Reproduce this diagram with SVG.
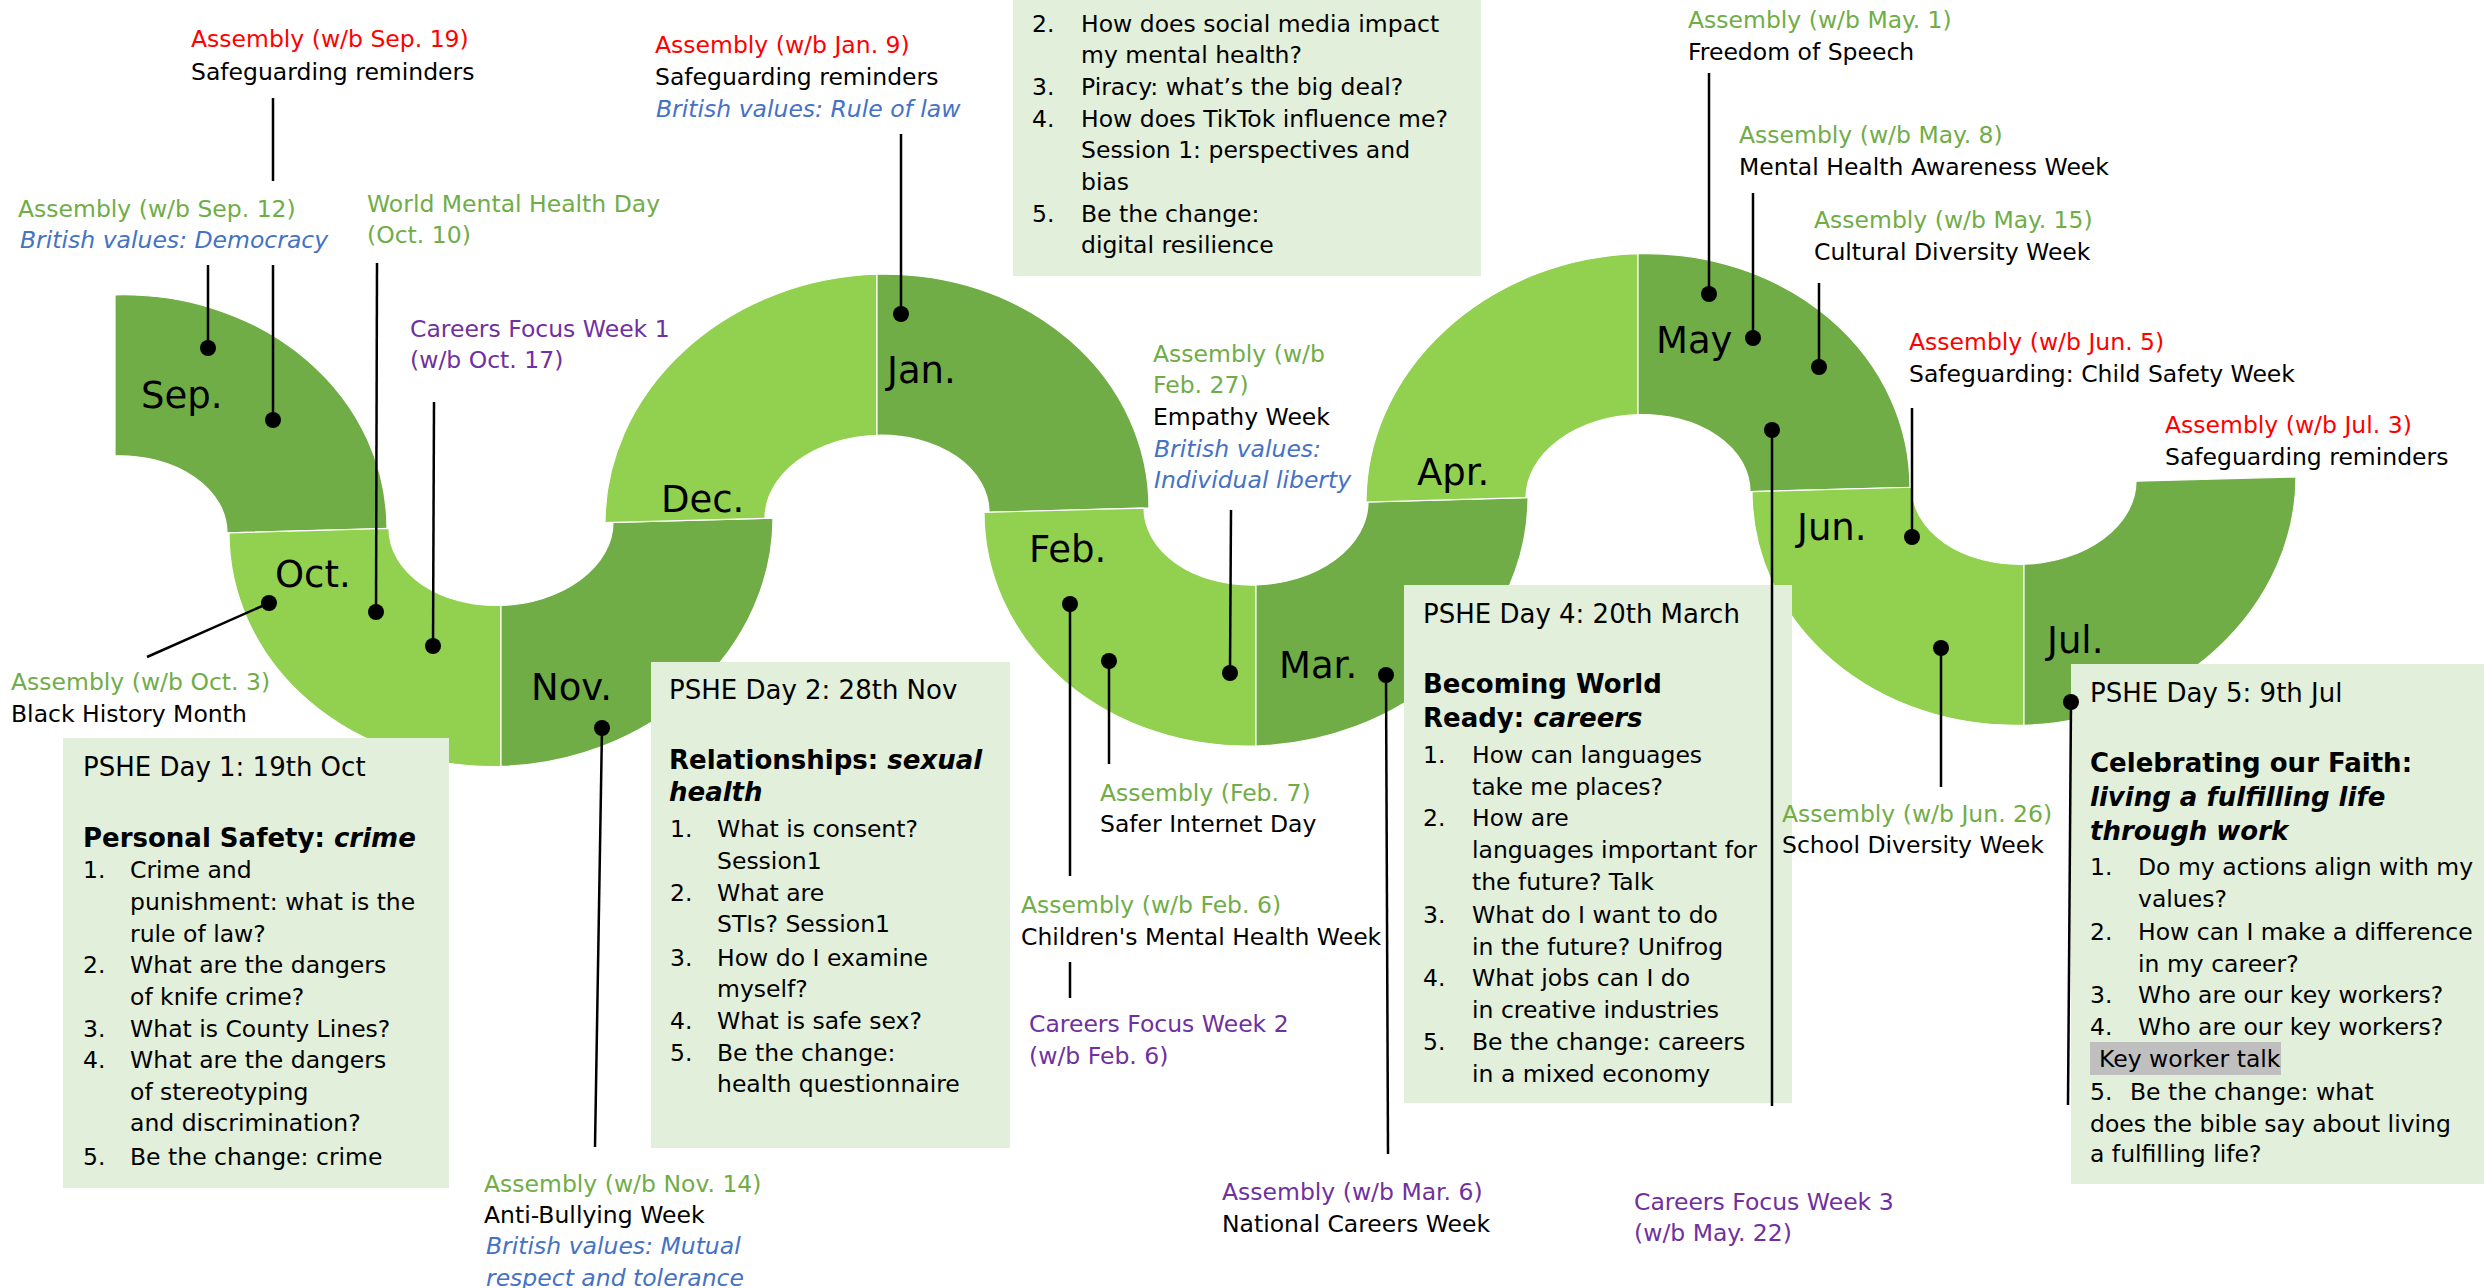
<svg xmlns="http://www.w3.org/2000/svg" width="2484" height="1288" viewBox="0 0 2484 1288">
<style>
text{font-family:"DejaVu Sans",Verdana,sans-serif;font-size:23.5px;fill:#000}
.g{fill:#70AD47}.r{fill:#FF0000}.bl{fill:#4472C4;font-style:italic}.p{fill:#7030A0}
.h{font-size:26px}.hb{font-size:26px;font-weight:bold}.i{font-style:italic}
.m{font-size:37px}
.box{fill:#E2EFDA}
.dk{fill:#70AD47;stroke:#fff;stroke-width:1.2}.lt{fill:#92D050;stroke:#fff;stroke-width:1.2}
.ln{stroke:#000;stroke-width:2.5;fill:none}
.dot{fill:#000}
</style>
<rect width="2484" height="1288" fill="#fff"/>
<g id="snake" transform="skewY(-1.55)">
<path id="seg-sep" class="dk" d="M115,298 A272,241 0 0 1 387,539 L227,539 A112,80 0 0 0 115,459 Z"/>
<path id="seg-oct" class="lt" d="M229,539 A272,241 0 0 0 501,780 L501,619 A112,80 0 0 1 389,539 Z"/>
<path id="seg-nov" class="dk" d="M501,780 A272,241 0 0 0 773,539 L613,539 A112,80 0 0 1 501,619 Z"/>
<path id="seg-dec" class="lt" d="M605,539 A272,241 0 0 1 877,298 L877,459 A112,80 0 0 0 765,539 Z"/>
<path id="seg-jan" class="dk" d="M877,298 A272,241 0 0 1 1149,539 L989,539 A112,80 0 0 0 877,459 Z"/>
<path id="seg-feb" class="lt" d="M984,539 A272,241 0 0 0 1256,780 L1256,619 A112,80 0 0 1 1144,539 Z"/>
<path id="seg-mar" class="dk" d="M1256,780 A272,241 0 0 0 1528,539 L1368,539 A112,80 0 0 1 1256,619 Z"/>
<path id="seg-apr" class="lt" d="M1366,539 A272,241 0 0 1 1638,298 L1638,459 A112,80 0 0 0 1526,539 Z"/>
<path id="seg-may" class="dk" d="M1638,298 A272,241 0 0 1 1910,539 L1750,539 A112,80 0 0 0 1638,459 Z"/>
<path id="seg-jun" class="lt" d="M1752,539 A272,241 0 0 0 2024,780 L2024,619 A112,80 0 0 1 1912,539 Z"/>
<path id="seg-jul" class="dk" d="M2024,780 A272,241 0 0 0 2296,539 L2136,539 A112,80 0 0 1 2024,619 Z"/>
</g>
<g id="months">
<text class="m" x="141" y="408">Sep.</text>
<text class="m" x="275" y="587">Oct.</text>
<text class="m" x="531" y="700">Nov.</text>
<text class="m" x="661" y="512">Dec.</text>
<text class="m" x="887" y="383">Jan.</text>
<text class="m" x="1029" y="562">Feb.</text>
<text class="m" x="1279" y="678">Mar.</text>
<text class="m" x="1417" y="485">Apr.</text>
<text class="m" x="1656" y="353">May</text>
<text class="m" x="1797" y="540">Jun.</text>
<text class="m" x="2047" y="653">Jul.</text>
</g>
<g id="pshe1">
<rect class="box" x="63" y="738" width="386" height="450"/>
<text class="h" x="83" y="776">PSHE Day 1: 19th Oct</text>
<text class="hb" x="83" y="847">Personal Safety: <tspan class="i">crime</tspan></text>
<text x="83" y="878">1.</text><text x="130" y="878">Crime and</text>
<text x="130" y="910">punishment: what is the</text>
<text x="130" y="942">rule of law?</text>
<text x="83" y="973">2.</text><text x="130" y="973">What are the dangers</text>
<text x="130" y="1005">of knife crime?</text>
<text x="83" y="1037">3.</text><text x="130" y="1037">What is County Lines?</text>
<text x="83" y="1068">4.</text><text x="130" y="1068">What are the dangers</text>
<text x="130" y="1100">of stereotyping</text>
<text x="130" y="1131">and discrimination?</text>
<text x="83" y="1165">5.</text><text x="130" y="1165">Be the change: crime</text>
</g>
<g id="pshe2">
<rect class="box" x="651" y="662" width="359" height="486"/>
<text class="h" x="669" y="699">PSHE Day 2: 28th Nov</text>
<text class="hb" x="669" y="769">Relationships: <tspan class="i">sexual</tspan></text>
<text class="hb i" x="669" y="801">health</text>
<text x="670" y="837">1.</text><text x="717" y="837">What is consent?</text>
<text x="717" y="869">Session1</text>
<text x="670" y="901">2.</text><text x="717" y="901">What are</text>
<text x="717" y="932">STIs? Session1</text>
<text x="670" y="966">3.</text><text x="717" y="966">How do I examine</text>
<text x="717" y="997">myself?</text>
<text x="670" y="1029">4.</text><text x="717" y="1029">What is safe sex?</text>
<text x="670" y="1061">5.</text><text x="717" y="1061">Be the change:</text>
<text x="717" y="1092">health questionnaire</text>
</g>
<g id="pshe3">
<rect class="box" x="1013" y="-10" width="468" height="286"/>
<text x="1032" y="32">2.</text><text x="1081" y="32">How does social media impact</text>
<text x="1081" y="63">my mental health?</text>
<text x="1032" y="95">3.</text><text x="1081" y="95">Piracy: what’s the big deal?</text>
<text x="1032" y="127">4.</text><text x="1081" y="127">How does TikTok influence me?</text>
<text x="1081" y="158">Session 1: perspectives and</text>
<text x="1081" y="190">bias</text>
<text x="1032" y="222">5.</text><text x="1081" y="222">Be the change:</text>
<text x="1081" y="253">digital resilience</text>
</g>
<g id="pshe4">
<rect class="box" x="1404" y="585" width="388" height="518"/>
<text class="h" x="1423" y="623">PSHE Day 4: 20th March</text>
<text class="hb" x="1423" y="693">Becoming World</text>
<text class="hb" x="1423" y="727">Ready: <tspan class="i">careers</tspan></text>
<text x="1423" y="763">1.</text><text x="1472" y="763">How can languages</text>
<text x="1472" y="795">take me places?</text>
<text x="1423" y="826">2.</text><text x="1472" y="826">How are</text>
<text x="1472" y="858">languages important for</text>
<text x="1472" y="890">the future? Talk</text>
<text x="1423" y="923">3.</text><text x="1472" y="923">What do I want to do</text>
<text x="1472" y="955">in the future? Unifrog</text>
<text x="1423" y="986">4.</text><text x="1472" y="986">What jobs can I do</text>
<text x="1472" y="1018">in creative industries</text>
<text x="1423" y="1050">5.</text><text x="1472" y="1050">Be the change: careers</text>
<text x="1472" y="1082">in a mixed economy</text>
</g>
<g id="pshe5">
<rect class="box" x="2071" y="664" width="413" height="520"/>
<text class="h" x="2090" y="702">PSHE Day 5: 9th Jul</text>
<text class="hb" x="2090" y="772">Celebrating our Faith:</text>
<text class="hb i" x="2090" y="806">living a fulfilling life</text>
<text class="hb i" x="2090" y="840">through work</text>
<text x="2090" y="875">1.</text><text x="2138" y="875">Do my actions align with my</text>
<text x="2138" y="907">values?</text>
<text x="2090" y="940">2.</text><text x="2138" y="940">How can I make a difference</text>
<text x="2138" y="972">in my career?</text>
<text x="2090" y="1003">3.</text><text x="2138" y="1003">Who are our key workers?</text>
<text x="2090" y="1035">4.</text><text x="2138" y="1035">Who are our key workers?</text>
<rect x="2090" y="1042" width="191" height="33" fill="#BFBFBF"/>
<text x="2099" y="1067">Key worker talk</text>
<text x="2090" y="1100">5.</text><text x="2130" y="1100">Be the change: what</text>
<text x="2090" y="1132">does the bible say about living</text>
<text x="2090" y="1162">a fulfilling life?</text>
</g>
<g id="lbl-sep19"><text class="r" x="191" y="47">Assembly (w/b Sep. 19)</text><text x="191" y="80">Safeguarding reminders</text></g>
<g id="lbl-sep12"><text class="g" x="18" y="217">Assembly (w/b Sep. 12)</text><text class="bl" x="20" y="248">British values: Democracy</text></g>
<g id="lbl-wmhd"><text class="g" x="367" y="212">World Mental Health Day</text><text class="g" x="367" y="243">(Oct. 10)</text></g>
<g id="lbl-cfw1"><text class="p" x="410" y="337">Careers Focus Week 1</text><text class="p" x="410" y="368">(w/b Oct. 17)</text></g>
<g id="lbl-oct3"><text class="g" x="11" y="690">Assembly (w/b Oct. 3)</text><text x="11" y="722">Black History Month</text></g>
<g id="lbl-nov14"><text class="g" x="484" y="1192">Assembly (w/b Nov. 14)</text><text x="484" y="1223">Anti-Bullying Week</text><text class="bl" x="486" y="1254">British values: Mutual</text><text class="bl" x="486" y="1286">respect and tolerance</text></g>
<g id="lbl-jan9"><text class="r" x="655" y="53">Assembly (w/b Jan. 9)</text><text x="655" y="85">Safeguarding reminders</text><text class="bl" x="656" y="117">British values: Rule of law</text></g>
<g id="lbl-feb27"><text class="g" x="1153" y="362">Assembly (w/b</text><text class="g" x="1153" y="393">Feb. 27)</text><text x="1153" y="425">Empathy Week</text><text class="bl" x="1154" y="457">British values:</text><text class="bl" x="1154" y="488">Individual liberty</text></g>
<g id="lbl-feb7"><text class="g" x="1100" y="801">Assembly (Feb. 7)</text><text x="1100" y="832">Safer Internet Day</text></g>
<g id="lbl-feb6"><text class="g" x="1021" y="913">Assembly (w/b Feb. 6)</text><text x="1021" y="945">Children's Mental Health Week</text></g>
<g id="lbl-cfw2"><text class="p" x="1029" y="1032">Careers Focus Week 2</text><text class="p" x="1029" y="1064">(w/b Feb. 6)</text></g>
<g id="lbl-mar6"><text class="p" x="1222" y="1200">Assembly (w/b Mar. 6)</text><text x="1222" y="1232">National Careers Week</text></g>
<g id="lbl-cfw3"><text class="p" x="1634" y="1210">Careers Focus Week 3</text><text class="p" x="1634" y="1241">(w/b May. 22)</text></g>
<g id="lbl-may1"><text class="g" x="1688" y="28">Assembly (w/b May. 1)</text><text x="1688" y="60">Freedom of Speech</text></g>
<g id="lbl-may8"><text class="g" x="1739" y="143">Assembly (w/b May. 8)</text><text x="1739" y="175">Mental Health Awareness Week</text></g>
<g id="lbl-may15"><text class="g" x="1814" y="228">Assembly (w/b May. 15)</text><text x="1814" y="260">Cultural Diversity Week</text></g>
<g id="lbl-jun5"><text class="r" x="1909" y="350">Assembly (w/b Jun. 5)</text><text x="1909" y="382">Safeguarding: Child Safety Week</text></g>
<g id="lbl-jul3"><text class="r" x="2165" y="433">Assembly (w/b Jul. 3)</text><text x="2165" y="465">Safeguarding reminders</text></g>
<g id="lbl-jun26"><text class="g" x="1782" y="822">Assembly (w/b Jun. 26)</text><text x="1782" y="853">School Diversity Week</text></g>
<g id="connectors">
<path class="ln" d="M273,98V181M273,265V420"/><circle class="dot" cx="273" cy="420" r="8"/>
<path class="ln" d="M208,265V348"/><circle class="dot" cx="208" cy="348" r="8"/>
<path class="ln" d="M377,263L376,612"/><circle class="dot" cx="376" cy="612" r="8"/>
<path class="ln" d="M434,402L433,646"/><circle class="dot" cx="433" cy="646" r="8"/>
<path class="ln" d="M147,657L269,603"/><circle class="dot" cx="269" cy="603" r="8"/>
<path class="ln" d="M602,728L595,1147"/><circle class="dot" cx="602" cy="728" r="8"/>
<path class="ln" d="M901,134V314"/><circle class="dot" cx="901" cy="314" r="8"/>
<path class="ln" d="M1231,510L1230,673"/><circle class="dot" cx="1230" cy="673" r="8"/>
<path class="ln" d="M1070,604V876M1070,962V998"/><circle class="dot" cx="1070" cy="604" r="8"/>
<path class="ln" d="M1109,661V764"/><circle class="dot" cx="1109" cy="661" r="8"/>
<path class="ln" d="M1386,675L1388,1154"/><circle class="dot" cx="1386" cy="675" r="8"/>
<path class="ln" d="M1709,73V294"/><circle class="dot" cx="1709" cy="294" r="8"/>
<path class="ln" d="M1753,193V338"/><circle class="dot" cx="1753" cy="338" r="8"/>
<path class="ln" d="M1819,283V367"/><circle class="dot" cx="1819" cy="367" r="8"/>
<path class="ln" d="M1772,430V1106"/><circle class="dot" cx="1772" cy="430" r="8"/>
<path class="ln" d="M1912,408V537"/><circle class="dot" cx="1912" cy="537" r="8"/>
<path class="ln" d="M1941,648V787"/><circle class="dot" cx="1941" cy="648" r="8"/>
<path class="ln" d="M2071,702L2068,1105"/><circle class="dot" cx="2071" cy="702" r="8"/>
</g>
</svg>
